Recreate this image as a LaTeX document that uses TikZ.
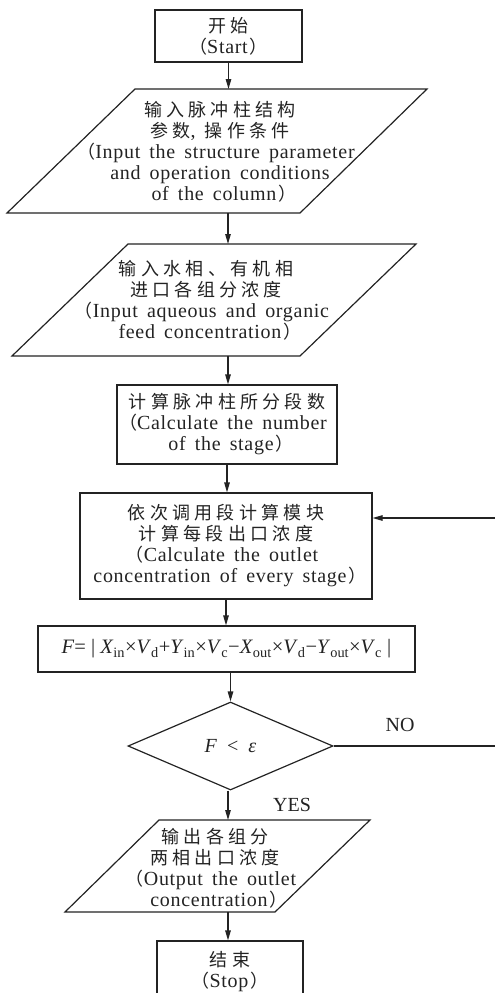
\documentclass[tikz,border=0pt]{standalone}
\usepackage{fontspec}
\setmainfont{Liberation Serif}[LetterSpace=3.5,WordSpace=1.6]
\newfontfamily\fmfont{Liberation Serif}
\newfontfamily\cjk[LetterSpace=24]{Noto Sans CJK SC}
\newcommand{\zh}[1]{{\cjk\fontsize{18}{21}\selectfont #1}}
\newcommand{\lpar}{\kern-8pt\zh{（}}
\newcommand{\rpar}{\kern2pt\zh{）}\kern-8pt}
\usetikzlibrary{arrows.meta,shapes.geometric}
\definecolor{ink}{RGB}{35,35,35}
\tikzset{
  box/.style={draw=ink, line width=1.2pt, rectangle, inner sep=0pt, align=center, text=ink, font=\fontsize{20}{21}\selectfont},
  ptext/.style={inner sep=0pt, align=center, text=ink, font=\fontsize{20}{21}\selectfont},
  para/.style={draw=ink, line width=1.2pt, line join=miter},
  arr/.style={draw=ink, line width=1.2pt, -{Triangle[length=10pt,width=5.5pt]}},
  lbl/.style={inner sep=0pt, text=ink, font=\fmfont\fontsize{20}{22}\selectfont},
}
\begin{document}
\begin{tikzpicture}[x=1pt,y=-1pt]
\useasboundingbox (0,0) rectangle (495,993);
\clip (0,0) rectangle (495,993);
% start
\node[box, minimum width=147pt, minimum height=52pt] (start) at (228.5,36) {\zh{开始}\\\lpar Start\rpar};
% parallelogram 1
\coordinate (p1tl) at (135,89); \coordinate (p1tr) at (427,89);
\coordinate (p1br) at (300,213); \coordinate (p1bl) at (7,213);
\draw[para] (p1tl) -- (p1tr) -- (p1br) -- (p1bl) -- cycle;
\node[ptext] (p1) at (220,152) {\zh{输入脉冲柱结构}\\\zh{参数}, \zh{操作条件}\\\lpar Input the structure parameter\\and operation conditions\\of the column\rpar};
\coordinate (p1n) at (228,89); \coordinate (p1s) at (228,213);
% parallelogram 2
\coordinate (p2tl) at (128,244); \coordinate (p2tr) at (416,244);
\coordinate (p2br) at (300,356); \coordinate (p2bl) at (12,356);
\draw[para] (p2tl) -- (p2tr) -- (p2br) -- (p2bl) -- cycle;
\node[ptext] (p2) at (206,300) {\zh{输入水相、有机相}\\\zh{进口各组分浓度}\\\lpar Input aqueous and organic\\feed concentration\rpar};
\coordinate (p2n) at (228,244); \coordinate (p2s) at (228,356);
% box 3
\node[box, minimum width=220pt, minimum height=79pt] (b3) at (227,424.5) {\zh{计算脉冲柱所分段数}\\\lpar Calculate the number\\of the stage\rpar};
% box 4
\node[box, minimum width=292pt, minimum height=106pt] (b4) at (226,546) {\zh{依次调用段计算模块}\\\zh{计算每段出口浓度}\\\lpar Calculate the outlet\\concentration of every stage\rpar};
% formula
\node[box, minimum width=377pt, minimum height=46pt, font=\fmfont\fontsize{20.5}{22}\selectfont] (fm) at (226.5,649) {\textit{F}= | \textit{X}\textsubscript{in}×\textit{V}\textsubscript{d}+\textit{Y}\textsubscript{in}×\textit{V}\textsubscript{c}−\textit{X}\textsubscript{out}×\textit{V}\textsubscript{d}−\textit{Y}\textsubscript{out}×\textit{V}\textsubscript{c} |};
% diamond
\node[draw=ink, line width=1.2pt, diamond, inner sep=0pt, minimum width=205pt, minimum height=88pt, text=ink, font=\fmfont\fontsize{20}{22}\selectfont] (dm) at (230.5,746) {\textit{F}\ \ <\ \ \textit{ε}};
% parallelogram 3
\coordinate (p3tl) at (159,820); \coordinate (p3tr) at (370,820);
\coordinate (p3br) at (275,912); \coordinate (p3bl) at (65,912);
\draw[para] (p3tl) -- (p3tr) -- (p3br) -- (p3bl) -- cycle;
\node[ptext] (p3) at (215,868) {\zh{输出各组分}\\\zh{两相出口浓度}\\\lpar Output the outlet\\concentration\rpar};
\coordinate (p3n) at (228,820); \coordinate (p3s) at (228,912);
% stop
\node[box, minimum width=146pt, minimum height=61pt] (stop) at (230,971.5) {\zh{结束}\\\lpar Stop\rpar};
% labels
\node[lbl] (no) at (400,725) {NO};
\node[lbl] (yes) at (292,805) {YES};
% arrows
\draw[arr] (start.south) -- (start.south |- p1n);
\draw[arr] (p1s) -- (p2n);
\draw[arr] (p2s) -- (p2s |- b3.north);
\draw[arr] (b3.south) -- (b4.north -| b3.south);
\draw[arr] (b4.south) -- (b4.south |- fm.north);
\draw[arr] (fm.south -| dm.north) -- (dm.north);
\draw[arr] (dm.south -| p3n) -- (p3n);
\draw[arr] (p3s) -- (p3s |- stop.north);
\coordinate (fb) at (500,518);
\draw[arr] (dm.east) -| (fb) -- (fb -| b4.east);
\end{tikzpicture}
\end{document}
